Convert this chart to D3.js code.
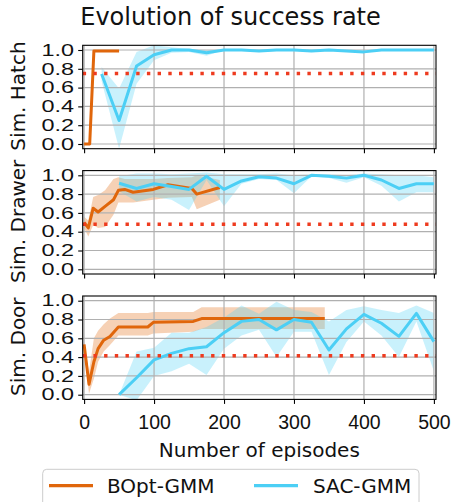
<!DOCTYPE html>
<html>
<head>
<meta charset="utf-8">
<script src="https://cdn.jsdelivr.net/npm/d3@7"></script>
<style>
  html, body { margin: 0; padding: 0; background: #fff; }
  svg { display: block; font-family: "DejaVu Sans", sans-serif; }
</style>
</head>
<body>
<div id="chart"></div>
<script>
// ---------------- data ----------------
const xTicks = [0, 100, 200, 300, 400, 500];
const yTicks = [0.0, 0.2, 0.4, 0.6, 0.8, 1.0];
const panelNames = ["Sim. Hatch", "Sim. Drawer", "Sim. Door"];
const seriesNames = ["BOpt-GMM", "SAC-GMM"];
const thresholds = [0.75, 0.48, 0.415];

// Hatch
const boptHatchX = [0, 8, 14, 50];
const boptHatchY = [0.0, 0.0, 0.99, 0.99];
const boptHatchLo = [0.0, 0.0, 0.99, 0.99];
const boptHatchHi = [0.0, 0.0, 0.99, 0.99];
const sacHatchX = [25, 50, 75, 100, 125, 150, 175, 200, 225, 250, 275, 300, 325, 350, 375, 400, 425, 450, 475, 500];
const sacHatchY = [0.745, 0.25, 0.83, 0.95, 1.0, 1.0, 0.97, 1.0, 1.0, 0.99, 1.0, 1.0, 0.99, 1.0, 0.99, 0.98, 1.0, 1.0, 1.0, 1.0];
const sacHatchLo = [0.67, -0.05, 0.64, 0.89, 0.97, 0.98, 0.94, 1.0, 1.0, 0.99, 1.0, 1.0, 0.99, 1.0, 0.99, 0.98, 1.0, 1.0, 1.0, 1.0];
const sacHatchHi = [0.82, 0.59, 0.98, 1.05, 1.03, 1.01, 1.0, 1.0, 1.0, 0.99, 1.0, 1.0, 0.99, 1.0, 0.99, 0.98, 1.0, 1.0, 1.0, 1.0];

// Drawer
const boptDrawerX = [0, 6, 13, 20, 30, 42, 49, 58, 70, 99, 120, 154, 161, 194];
const boptDrawerY = [0.50, 0.44, 0.65, 0.61, 0.67, 0.74, 0.84, 0.85, 0.82, 0.85, 0.90, 0.86, 0.80, 0.87];
const boptDrawerLo = [0.44, 0.35, 0.47, 0.44, 0.45, 0.58, 0.71, 0.71, 0.71, 0.74, 0.76, 0.77, 0.64, 0.74];
const boptDrawerHi = [0.56, 0.52, 0.77, 0.79, 0.84, 0.96, 0.98, 0.96, 0.96, 0.96, 0.97, 0.98, 1.0, 0.95];
const sacDrawerX = [50, 75, 100, 125, 150, 175, 200, 225, 250, 275, 300, 325, 350, 375, 400, 425, 450, 475, 500];
const sacDrawerY = [0.915, 0.86, 0.91, 0.88, 0.85, 0.99, 0.85, 0.94, 0.985, 0.97, 0.91, 1.0, 0.99, 0.97, 1.0, 0.95, 0.86, 0.91, 0.91];
const sacDrawerLo = [0.83, 0.72, 0.77, 0.74, 0.63, 0.95, 0.67, 0.91, 0.96, 0.95, 0.81, 0.99, 0.97, 0.92, 0.98, 0.89, 0.72, 0.82, 0.82];
const sacDrawerHi = [0.99, 1.02, 1.02, 1.01, 1.02, 1.03, 1.01, 1.01, 1.01, 1.02, 1.0, 1.01, 1.01, 1.0, 1.02, 1.01, 1.0, 1.0, 0.98];

// Door
const boptDoorX = [0, 7, 14, 20, 28, 37, 49, 91, 99, 156, 168, 344];
const boptDoorY = [0.535, 0.11, 0.35, 0.49, 0.58, 0.62, 0.72, 0.72, 0.77, 0.78, 0.81, 0.81];
const boptDoorLo = [0.48, 0.01, 0.17, 0.35, 0.46, 0.53, 0.63, 0.63, 0.65, 0.67, 0.70, 0.70];
const boptDoorHi = [0.58, 0.24, 0.60, 0.68, 0.75, 0.81, 0.87, 0.87, 0.88, 0.88, 0.93, 0.93];
const sacDoorX = [50, 75, 100, 125, 150, 175, 200, 225, 250, 275, 300, 325, 350, 375, 400, 425, 450, 475, 500];
const sacDoorY = [0.0, 0.18, 0.37, 0.44, 0.49, 0.51, 0.66, 0.78, 0.80, 0.69, 0.80, 0.77, 0.475, 0.70, 0.855, 0.76, 0.62, 0.865, 0.565];
const sacDoorLo = [0.0, -0.06, 0.20, 0.25, 0.33, 0.21, 0.49, 0.63, 0.69, 0.40, 0.67, 0.67, 0.21, 0.56, 0.78, 0.63, 0.40, 0.78, 0.25];
const sacDoorHi = [0.0, 0.46, 0.50, 0.66, 0.66, 0.72, 0.82, 0.95, 0.86, 0.99, 0.90, 0.88, 0.78, 0.90, 0.94, 0.90, 0.87, 0.95, 0.87];

// ---------------- style ----------------
const W = 453, H = 502;
const colBopt = "#e0660b";
const colSac = "#4ccff5";
const colThr = "#ee3b1f";
const gridCol = "#b0b0b0";

const panels = [
  { name: panelNames[0], thr: thresholds[0],
    bopt: {x: boptHatchX, y: boptHatchY, lo: boptHatchLo, hi: boptHatchHi},
    sac: {x: sacHatchX, y: sacHatchY, lo: sacHatchLo, hi: sacHatchHi} },
  { name: panelNames[1], thr: thresholds[1],
    bopt: {x: boptDrawerX, y: boptDrawerY, lo: boptDrawerLo, hi: boptDrawerHi},
    sac: {x: sacDrawerX, y: sacDrawerY, lo: sacDrawerLo, hi: sacDrawerHi} },
  { name: panelNames[2], thr: thresholds[2],
    bopt: {x: boptDoorX, y: boptDoorY, lo: boptDoorLo, hi: boptDoorHi},
    sac: {x: sacDoorX, y: sacDoorY, lo: sacDoorLo, hi: sacDoorHi} }
];

const svg = d3.select("#chart").append("svg").attr("width", W).attr("height", H);

const left = 82.7, right = 436;
const tops = [45.3, 170.6, 296.0];
const ph = 103.4;

const x = d3.scaleLinear().domain([-2, 503]).range([left, right]);

svg.append("text")
  .attr("x", 230.5).attr("y", 25)
  .attr("text-anchor", "middle")
  .style("font-size", "24px").attr("fill", "#111")
  .text("Evolution of success rate");

panels.forEach((p, i) => {
  const top = tops[i];
  const y = d3.scaleLinear().domain([-0.05, 1.05]).range([top + ph, top]);
  const g = svg.append("g");
  const clipId = "clip" + i;
  svg.append("clipPath").attr("id", clipId)
    .append("rect").attr("x", left).attr("y", top).attr("width", right - left).attr("height", ph);
  const plot = g.append("g").attr("clip-path", `url(#${clipId})`);

  const toPts = s => s.x.map((xv, k) => ({x: xv, y: s.y[k], lo: s.lo[k], hi: s.hi[k]}));
  const area = d3.area().x(d => x(d.x)).y0(d => y(d.lo)).y1(d => y(d.hi));
  const line = d3.line().x(d => x(d.x)).y(d => y(d.y));

  // bands
  plot.append("path").datum(toPts(p.bopt)).attr("d", area)
    .attr("fill", colBopt).attr("fill-opacity", 0.3);
  plot.append("path").datum(toPts(p.sac)).attr("d", area)
    .attr("fill", colSac).attr("fill-opacity", 0.3);

  // grid
  plot.selectAll(".gx").data(xTicks).enter().append("line")
    .attr("x1", d => x(d)).attr("x2", d => x(d))
    .attr("y1", top).attr("y2", top + ph)
    .attr("stroke", gridCol).attr("stroke-width", 1.2);
  plot.selectAll(".gy").data(yTicks).enter().append("line")
    .attr("x1", left).attr("x2", right)
    .attr("y1", d => y(d)).attr("y2", d => y(d))
    .attr("stroke", gridCol).attr("stroke-width", 1.2);

  // lines
  plot.append("path").datum(toPts(p.bopt)).attr("d", line)
    .attr("fill", "none").attr("stroke", colBopt).attr("stroke-width", 3)
    .attr("stroke-linejoin", "round");
  plot.append("path").datum(toPts(p.sac)).attr("d", line)
    .attr("fill", "none").attr("stroke", colSac).attr("stroke-width", 3)
    .attr("stroke-linejoin", "round");

  // threshold
  plot.append("line")
    .attr("x1", x(-2)).attr("x2", x(503))
    .attr("y1", y(p.thr)).attr("y2", y(p.thr))
    .attr("stroke", colThr).attr("stroke-width", 3.4)
    .attr("stroke-dasharray", "3.4,7.3");

  // frame
  g.append("rect").attr("x", left).attr("y", top).attr("width", right - left).attr("height", ph)
    .attr("fill", "none").attr("stroke", "#000").attr("stroke-width", 1.1);

  // axes
  const ya = g.append("g").attr("transform", `translate(${left},0)`)
    .call(d3.axisLeft(y).tickValues(yTicks).tickFormat(d3.format(".1f")).tickSize(4.5).tickPadding(4));
  ya.select(".domain").remove();
  ya.selectAll("text")
    .attr("x", 0)
    .attr("transform", "translate(-8.7,0) scale(1.42,1)")
    .style("font-size", "16.5px").attr("fill", "#111");
  ya.selectAll("line").attr("stroke-width", 1.1);

  const xa = g.append("g").attr("transform", `translate(0,${top + ph})`)
    .call(d3.axisBottom(x).tickValues(xTicks).tickSize(4.5).tickPadding(11.5));
  xa.select(".domain").remove();
  xa.selectAll("line").attr("stroke-width", 1.1);
  if (i < 2) xa.selectAll("text").remove();
  else xa.selectAll("text").style("font-size", "19.5px").attr("fill", "#111");

  svg.append("text")
    .attr("transform", `translate(25,${top + ph / 2 - 1}) rotate(-90)`)
    .attr("text-anchor", "middle")
    .style("font-size", "20px").attr("fill", "#111")
    .text(p.name);
});

svg.append("text")
  .attr("x", (left + right) / 2).attr("y", 457)
  .attr("text-anchor", "middle")
  .style("font-size", "20px").attr("fill", "#111")
  .text("Number of episodes");

// legend
const lg = svg.append("g");
lg.append("rect").attr("x", 42.7).attr("y", 469.3).attr("width", 376.3).attr("height", 45)
  .attr("rx", 4).attr("fill", "#fff").attr("fill-opacity", 0.8)
  .attr("stroke", "#cccccc").attr("stroke-width", 1);
const legendItems = [
  {name: seriesNames[0], col: colBopt, x0: 49, tx: 107},
  {name: seriesNames[1], col: colSac, x0: 254, tx: 313}
];
legendItems.forEach(it => {
  lg.append("line").attr("x1", it.x0).attr("x2", it.x0 + 44)
    .attr("y1", 485.7).attr("y2", 485.7)
    .attr("stroke", it.col).attr("stroke-width", 3.3);
  lg.append("text").attr("x", it.tx).attr("y", 492.7)
    .style("font-size", "20px").attr("fill", "#111").text(it.name);
});
</script>
</body>
</html>
